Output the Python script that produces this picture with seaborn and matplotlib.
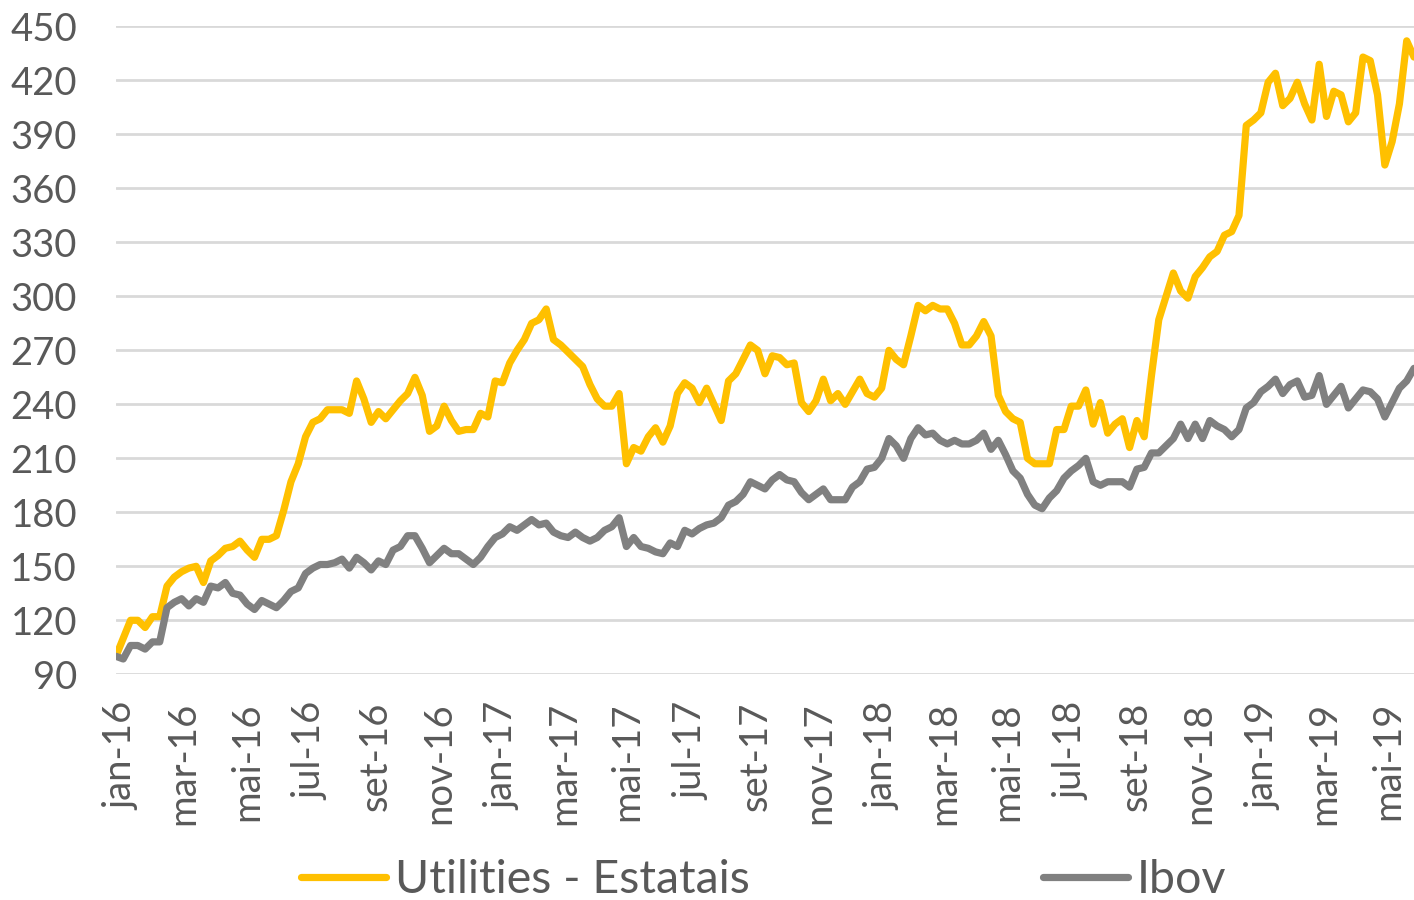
import pandas as pd
import seaborn as sns
import matplotlib.pyplot as plt

# weekly series (base 100 = jan-16)
utilities = [100, 110, 120, 120, 116, 122, 122, 139, 144, 147,
             149, 150, 141, 153, 156, 160, 161, 164, 159, 155,
             165, 165, 167, 181, 197, 207, 222, 230, 232, 237,
             237, 237, 235, 253, 243, 230, 236, 232, 237, 242,
             246, 255, 245, 225, 228, 239, 231, 225, 226, 226,
             235, 233, 253, 252, 263, 270, 276, 285, 287, 293,
             276, 273, 269, 265, 261, 251, 243, 239, 239, 246,
             207, 216, 214, 222, 227, 219, 228, 246, 252, 249,
             241, 249, 240, 231, 253, 257, 265, 273, 270, 257,
             267, 266, 262, 263, 241, 236, 242, 254, 242, 246,
             240, 247, 254, 246, 244, 249, 270, 265, 262, 278,
             295, 292, 295, 293, 293, 285, 273, 273, 278, 286,
             278, 245, 236, 232, 230, 210, 207, 207, 207, 226,
             226, 239, 239, 248, 229, 241, 224, 229, 232, 216,
             231, 222, 256, 287, 300, 313, 303, 299, 311, 316,
             322, 325, 334, 336, 345, 395, 398, 402, 419, 424,
             406, 410, 419, 407, 398, 429, 400, 414, 412, 397,
             402, 433, 431, 412, 373, 386, 407, 442, 433]

ibov = [100, 98.5, 106, 106, 104, 108, 108, 127, 130, 132,
        128, 132, 130, 139, 138, 141, 135, 134, 129, 126,
        131, 129, 127, 131, 136, 138, 146, 149, 151, 151,
        152, 154, 149, 155, 152, 148, 153, 151, 159, 161,
        167, 167, 160, 152, 156, 160, 157, 157, 154, 151,
        155, 161, 166, 168, 172, 170, 173, 176, 173, 174,
        169, 167, 166, 169, 166, 164, 166, 170, 172, 177,
        161, 166, 161, 160, 158, 157, 163, 161, 170, 168,
        171, 173, 174, 177, 184, 186, 190, 197, 195, 193,
        198, 201, 198, 197, 191, 187, 190, 193, 187, 187,
        187, 194, 197, 204, 205, 210, 221, 217, 210, 221,
        227, 223, 224, 220, 218, 220, 218, 218, 220, 224,
        215, 220, 212, 203, 199, 190, 184, 182, 188, 192,
        199, 203, 206, 210, 197, 195, 197, 197, 197, 194,
        204, 205, 213, 213, 217, 221, 229, 221, 229, 221,
        231, 228, 226, 222, 226, 238, 241, 247, 250, 254,
        246, 251, 253, 244, 245, 256, 240, 245, 250, 238,
        243, 248, 247, 243, 233, 241, 249, 253, 260]

dates = pd.date_range('2015-12-27', periods=len(utilities), freq='7D')

tick_dates = pd.date_range('2016-01-01', periods=21, freq='2MS')
tick_labels = ['jan-16', 'mar-16', 'mai-16', 'jul-16', 'set-16', 'nov-16',
               'jan-17', 'mar-17', 'mai-17', 'jul-17', 'set-17', 'nov-17',
               'jan-18', 'mar-18', 'mai-18', 'jul-18', 'set-18', 'nov-18',
               'jan-19', 'mar-19', 'mai-19']
y_ticks = list(range(90, 451, 30))

df = pd.DataFrame({'data': dates, 'Utilities - Estatais': utilities, 'Ibov': ibov})

sns.set_style('white')
plt.rcParams['font.family'] = ['Lato', 'DejaVu Sans']

fig = plt.figure(figsize=(14.14, 9), dpi=100)
ax = fig.add_axes([0.082, 0.2508, 0.918, 0.7198])

sns.lineplot(x='data', y='Utilities - Estatais', data=df, ax=ax, color='#FFC000',
             linewidth=5.2, label='Utilities - Estatais',
             solid_joinstyle='round', solid_capstyle='round')
sns.lineplot(x='data', y='Ibov', data=df, ax=ax, color='#808080',
             linewidth=5.2, label='Ibov',
             solid_joinstyle='round', solid_capstyle='round')

ax.set_xlim(dates[0], dates[-1])
ax.set_ylim(90, 450)
ax.set_yticks(y_ticks)
ax.set_xticks(tick_dates)
ax.set_xticklabels(tick_labels, rotation=90)
ax.set_xlabel('')
ax.set_ylabel('')

ax.grid(True, axis='y', color='#d9d9d9', linewidth=2)
ax.grid(False, axis='x')
ax.set_axisbelow(True)
for s in ax.spines.values():
    s.set_visible(False)
ax.tick_params(axis='y', length=0, pad=28, labelsize=27.5, labelcolor='#595959')
ax.tick_params(axis='x', length=0, pad=20, labelsize=27.5, labelcolor='#595959')

ax.legend(loc='center', bbox_to_anchor=(0.54, 0.022), bbox_transform=fig.transFigure,
          ncol=2, frameon=False, fontsize=33.5, labelcolor='#595959',
          handlelength=1.83, handletextpad=0.18, columnspacing=6.3, borderpad=0)

plt.savefig('out.png', dpi=100)
